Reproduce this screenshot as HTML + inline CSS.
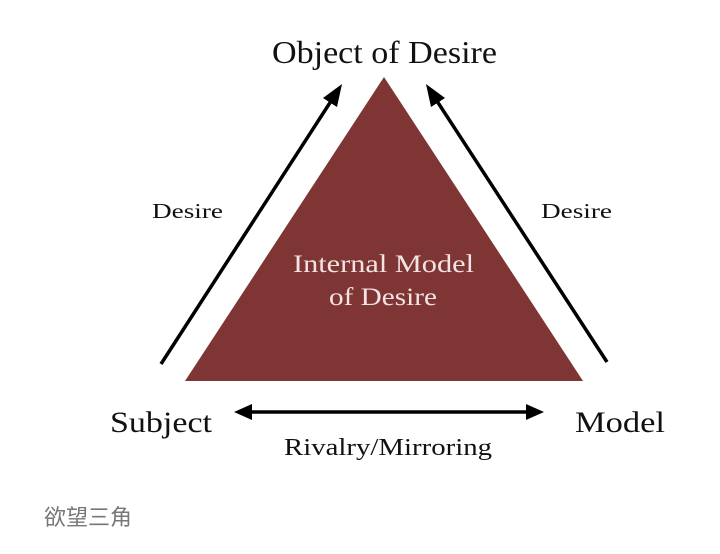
<!DOCTYPE html>
<html><head><meta charset="utf-8"><style>
html,body{margin:0;padding:0;background:#fff;}
svg{display:block}
.s{font-family:"Liberation Serif",serif;fill:#111}
</style></head><body>
<svg width="720" height="554" viewBox="0 0 720 554" xmlns="http://www.w3.org/2000/svg">
<polygon points="384,77 185,381 583,381" fill="#7e3534"/>
<text class="s" x="272" y="63" font-size="32" textLength="225" lengthAdjust="spacingAndGlyphs">Object of Desire</text>
<text class="s" x="293" y="272" font-size="25" textLength="181" lengthAdjust="spacingAndGlyphs" style="fill:#f3e3e3">Internal Model</text>
<text class="s" x="329" y="305" font-size="25" textLength="108" lengthAdjust="spacingAndGlyphs" style="fill:#f3e3e3">of Desire</text>
<text class="s" x="152" y="218" font-size="21" textLength="71" lengthAdjust="spacingAndGlyphs">Desire</text>
<text class="s" x="541" y="218" font-size="21" textLength="71" lengthAdjust="spacingAndGlyphs">Desire</text>
<text class="s" x="110" y="432" font-size="30" textLength="102" lengthAdjust="spacingAndGlyphs">Subject</text>
<text class="s" x="575" y="432" font-size="30" textLength="90" lengthAdjust="spacingAndGlyphs">Model</text>
<text class="s" x="284" y="455" font-size="24" textLength="208" lengthAdjust="spacingAndGlyphs">Rivalry/Mirroring</text>
<line x1="161" y1="364" x2="333" y2="98" stroke="#000" stroke-width="3.5"/>
<polygon points="342,84 323,98 337,107" fill="#000"/>
<line x1="607" y1="362" x2="435" y2="98" stroke="#000" stroke-width="3.5"/>
<polygon points="426,84 431,107 445,98" fill="#000"/>
<line x1="248" y1="412" x2="530" y2="412" stroke="#000" stroke-width="3.5"/>
<polygon points="234,412 252,404 252,420" fill="#000"/>
<polygon points="544,412 526,404 526,420" fill="#000"/>
<text x="44" y="525" font-size="22" fill="#777" font-family="'Liberation Sans','Noto Sans CJK SC',sans-serif">欲望三角</text>
</svg>
</body></html>
